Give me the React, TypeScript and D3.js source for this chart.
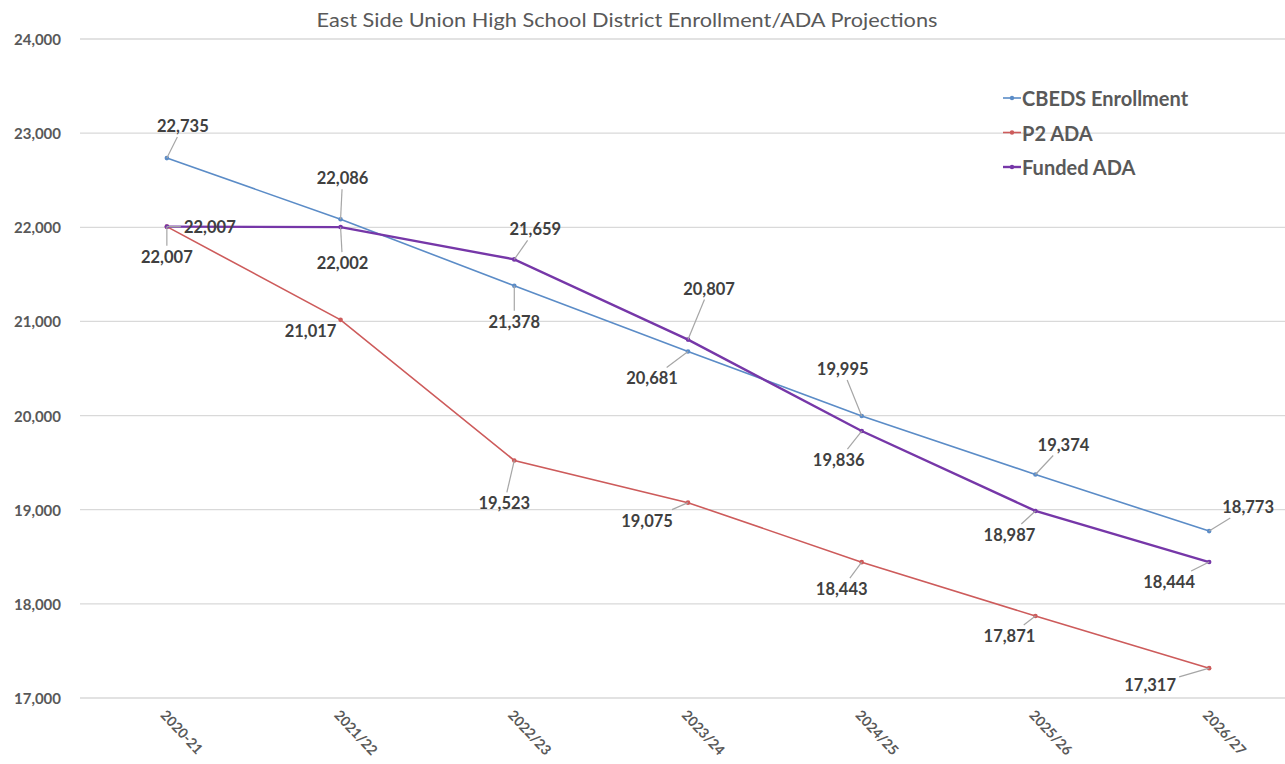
import React from "react";
import * as d3 from "d3";

const categories = ["2020-21", "2021/22", "2022/23", "2023/24", "2024/25", "2025/26", "2026/27"];
const cbeds = [22735, 22086, 21378, 20681, 19995, 19374, 18773];
const p2 = [22007, 21017, 19523, 19075, 18443, 17871, 17317];
const funded = [22007, 22002, 21659, 20807, 19836, 18987, 18444];
const yTicks = [17000, 18000, 19000, 20000, 21000, 22000, 23000, 24000];
const seriesNames = ["CBEDS Enrollment", "P2 ADA", "Funded ADA"];

// label offsets (layout only)
const cbedsOff = [[16, -32], [2, -41], [0, 36], [-36, 27], [-19, -47], [28, -30], [39, -24]];
const p2Off = [[0, 30], [-30, 11], [-10, 43], [-41, 18], [-20, 27], [-26, 20], [-59, 17]];
const fundedOff = [[43, 0], [2, 36], [21, -30], [21, -51], [-23, 29], [-26, 24], [-40, 20]];

const W = 1285;
const H = 764;
const colors = ["#5b8cc7", "#cd5b5b", "#7637a8"];
const widths = [1.6, 1.6, 2.4];
const FONT = "Lato, 'Open Sans', sans-serif";
const TXT = "#404040";

export default function App() {
  const x = d3.scaleBand<string>().domain(categories).range([80, 1296]);
  const cx = (c: string) => (x(c) as number) + x.bandwidth() / 2;
  const y = d3.scaleLinear().domain([17000, 24000]).range([698, 39]);
  const line = d3
    .line<number>()
    .x((_, i) => cx(categories[i]))
    .y((d) => y(d));
  const fmt = d3.format(",");
  const all = [cbeds, p2, funded];
  const offs = [cbedsOff, p2Off, fundedOff];

  const labels: React.ReactNode[] = [];
  all.forEach((s, si) => {
    s.forEach((v, i) => {
      const px = cx(categories[i]);
      const py = y(v);
      const [dx, dy] = offs[si][i];
      const lx = px + dx;
      const ly = py + dy;
      const hw = 29;
      const hh = 11;
      const tx = Math.abs(dx) > hw ? (Math.abs(dx) - hw) / Math.abs(dx) : 0;
      const ty = Math.abs(dy) > hh ? (Math.abs(dy) - hh) / Math.abs(dy) : 0;
      const inside = Math.abs(dx) <= hw && Math.abs(dy) <= hh;
      const t = Math.max(tx, ty);
      const ex = px + dx * t;
      const ey = py + dy * t;
      const len = Math.hypot(ex - px, ey - py);
      labels.push(
        <g key={`l${si}-${i}`}>
          {!inside && len > 8 && (
            <line x1={px} y1={py} x2={ex} y2={ey} stroke="#a6a6a6" strokeWidth={1.2} />
          )}
          <text
            x={lx}
            y={ly}
            textAnchor="middle"
            dominantBaseline="central"
            fontSize={16.5}
            fontWeight="bold"
            fill={TXT}
          >
            {fmt(v)}
          </text>
        </g>
      );
    });
  });

  return (
    <svg
      width={W}
      height={H}
      style={{ position: "absolute", left: 0, top: 0, background: "#fff" }}
      fontFamily={FONT}
    >
      <rect width={W} height={H} fill="#fff" />
      <text
        x={627}
        y={19}
        textAnchor="middle"
        dominantBaseline="central"
        fontSize={19.5}
        fill="#595959"
        textLength={621}
        lengthAdjust="spacingAndGlyphs"
      >
        East Side Union High School District Enrollment/ADA Projections
      </text>
      {yTicks.map((t) => (
        <g key={t}>
          <line x1={80} x2={W} y1={y(t)} y2={y(t)} stroke="#d9d9d9" strokeWidth={1.3} />
          <text
            x={61}
            y={y(t)}
            textAnchor="end"
            dominantBaseline="central"
            fontSize={15}
            fontWeight="bold"
            fill="#595959"
          >
            {fmt(t)}
          </text>
        </g>
      ))}
      {categories.map((c) => (
        <text
          key={c}
          transform={`translate(${cx(c) - 3},${712}) rotate(47)`}
          fontSize={14}
          fontWeight="bold"
          fill="#595959"
          dominantBaseline="central"
        >
          {c}
        </text>
      ))}
      {all.map((s, si) => (
        <g key={`s${si}`}>
          <path d={line(s) as string} fill="none" stroke={colors[si]} strokeWidth={widths[si]} />
          {s.map((v, i) => (
            <circle key={i} cx={cx(categories[i])} cy={y(v)} r={2.3} fill={colors[si]} />
          ))}
        </g>
      ))}
      {labels}
      {seriesNames.map((n, i) => {
        const ly = 98 + i * 34.5;
        return (
          <g key={n}>
            <line x1={1003} x2={1021} y1={ly} y2={ly} stroke={colors[i]} strokeWidth={widths[i]} />
            <circle cx={1012} cy={ly} r={2.2} fill={colors[i]} />
            <text x={1022} y={ly} dominantBaseline="central" fontSize={20} fontWeight="bold" fill="#595959">
              {n}
            </text>
          </g>
        );
      })}
    </svg>
  );
}
